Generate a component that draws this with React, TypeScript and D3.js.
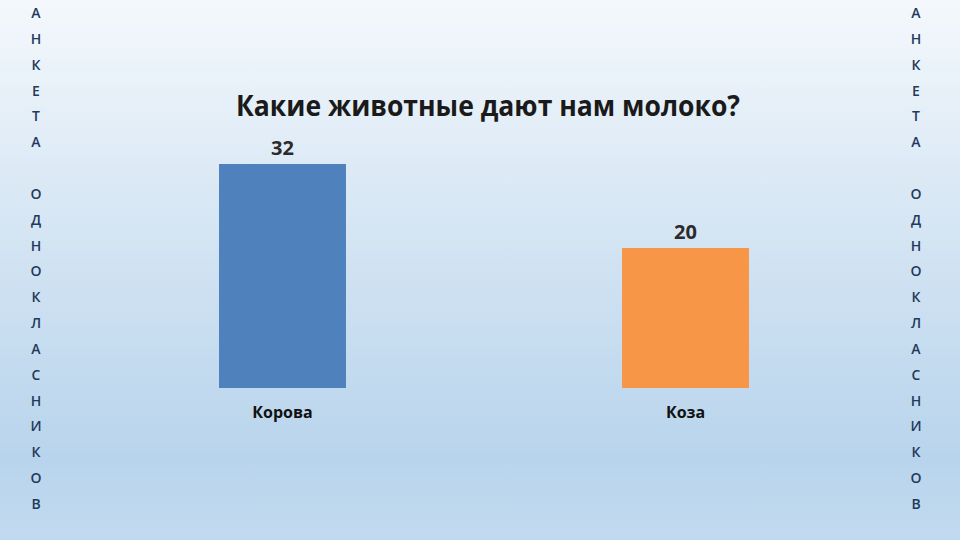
import React from "react";
import * as d3 from "d3";

const categories = ["Корова", "Коза"];
const values = [32, 20];
const colors = ["#4F81BD", "#F79646"];
const title = "Какие животные дают нам молоко?";
const sideLines = ["А", "Н", "К", "Е", "Т", "А", "", "О", "Д", "Н", "О", "К", "Л", "А", "С", "Н", "И", "К", "О", "В"];

const W = 960;
const H = 540;

export default function App() {
  const x = d3
    .scaleBand<string>()
    .domain(categories)
    .range([81, 887])
    .paddingInner(0.685)
    .paddingOuter(0.3425);
  const y = d3.scaleLinear().domain([0, 32]).range([388, 164]);
  const sideY = d3.scaleLinear().domain([0, sideLines.length - 1]).range([18, 509]);
  const font = "'Open Sans', 'Liberation Sans', sans-serif";

  return (
    <svg
      width={W}
      height={H}
      style={{ position: "fixed", left: 0, top: 0, display: "block" }}
    >
      <defs>
        <linearGradient id="bg" x1="0" y1="0" x2="0" y2="1">
          <stop offset="0" stopColor="#F4F8FC" />
          <stop offset="0.45" stopColor="#D3E4F3" />
          <stop offset="0.85" stopColor="#B8D4EC" />
          <stop offset="1" stopColor="#C2DAEF" />
        </linearGradient>
      </defs>
      <rect x={0} y={0} width={W} height={H} fill="url(#bg)" />

      {[36, 916].map((cx) =>
        sideLines.map((ch, i) =>
          ch ? (
            <text
              key={`${cx}-${i}`}
              x={cx}
              y={sideY(i)}
              textAnchor="middle"
              fontFamily={font}
              fontWeight={600}
              fontSize={14}
              fill="#1F3A5A"
            >
              {ch}
            </text>
          ) : null
        )
      )}

      <text
        x={488}
        y={116}
        textAnchor="middle"
        fontFamily={font}
        fontWeight="bold"
        fontSize={28}
        fill="#1a1a1a"
        textLength={504}
        lengthAdjust="spacingAndGlyphs"
      >
        {title}
      </text>

      {categories.map((c, i) => {
        const bx = x(c)!;
        const bw = x.bandwidth();
        return (
          <g key={c}>
            <rect
              x={bx}
              y={y(values[i])}
              width={bw}
              height={y(0) - y(values[i])}
              fill={colors[i]}
            />
            <text
              x={bx + bw / 2}
              y={y(values[i]) - 9}
              textAnchor="middle"
              fontFamily={font}
              fontWeight="bold"
              fontSize={20}
              fill="#2b2b2b"
            >
              {values[i]}
            </text>
            <text
              x={bx + bw / 2}
              y={418}
              textAnchor="middle"
              fontFamily={font}
              fontWeight="bold"
              fontSize={16}
              fill="#111"
            >
              {c}
            </text>
          </g>
        );
      })}
    </svg>
  );
}
